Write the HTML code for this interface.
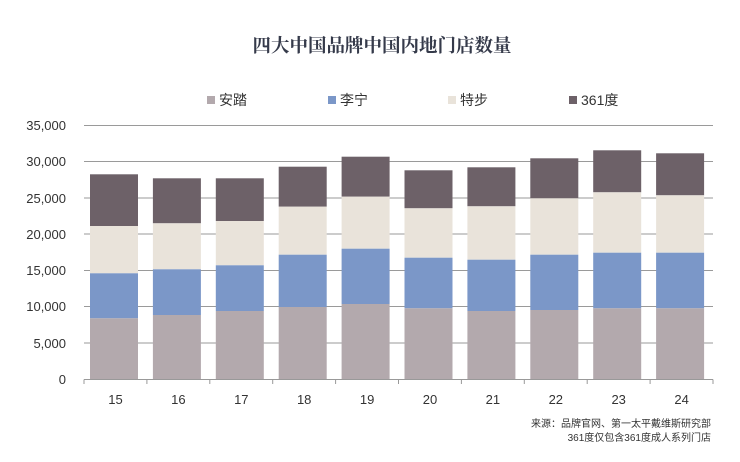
<!DOCTYPE html>
<html><head><meta charset="utf-8"><style>
body{margin:0;background:#fff;}
svg text{font-family:"Liberation Sans","Noto Sans CJK SC",sans-serif;}
</style></head><body>
<svg width="740" height="457" xmlns="http://www.w3.org/2000/svg">
<rect width="740" height="457" fill="#fff"/>
<text x="382" y="52" text-anchor="middle" font-size="18.5" font-weight="bold" fill="#353a4a" style="font-family:'Liberation Serif','Noto Serif CJK SC',serif">四大中国品牌中国内地门店数量</text>
<g font-size="14" fill="#333">
<rect x="207" y="96" width="8" height="8" fill="#b3a9ad"/><text x="219" y="105">安踏</text>
<rect x="328" y="96" width="8" height="8" fill="#7b97c8"/><text x="340" y="105">李宁</text>
<rect x="448" y="96" width="8" height="8" fill="#e9e3da"/><text x="460" y="105">特步</text>
<rect x="569" y="96" width="8" height="8" fill="#6d6168"/><text x="581" y="105">361度</text>
</g>
<g stroke="#9a9a9a" stroke-width="1">
<line x1="84" x2="713" y1="125.5" y2="125.5"/>
<line x1="84" x2="713" y1="161.5" y2="161.5"/>
<line x1="84" x2="713" y1="198" y2="198"/>
<line x1="84" x2="713" y1="234" y2="234"/>
<line x1="84" x2="713" y1="270.5" y2="270.5"/>
<line x1="84" x2="713" y1="306.5" y2="306.5"/>
<line x1="84" x2="713" y1="343" y2="343"/>
</g>
<g font-size="13" fill="#333" text-anchor="end">
<text x="66" y="130">35,000</text>
<text x="66" y="166">30,000</text>
<text x="66" y="203">25,000</text>
<text x="66" y="239">20,000</text>
<text x="66" y="275">15,000</text>
<text x="66" y="311">10,000</text>
<text x="66" y="348">5,000</text>
<text x="66" y="384">0</text>
</g>
<g fill="#6d6168">
<rect x="90" y="174.3" width="48" height="51.7"/>
<rect x="152.9" y="178.3" width="48" height="45"/>
<rect x="215.8" y="178.3" width="48" height="42.7"/>
<rect x="278.7" y="166.7" width="48" height="40"/>
<rect x="341.6" y="156.7" width="48" height="40"/>
<rect x="404.5" y="170.3" width="48" height="38"/>
<rect x="467.4" y="167.3" width="48" height="39"/>
<rect x="530.3" y="158.3" width="48" height="40"/>
<rect x="593.2" y="150.3" width="48" height="42"/>
<rect x="656.1" y="153.3" width="48" height="42"/>
</g>
<g fill="#e9e3da">
<rect x="90" y="226" width="48" height="47.3"/>
<rect x="152.9" y="223.3" width="48" height="46"/>
<rect x="215.8" y="221" width="48" height="44.3"/>
<rect x="278.7" y="206.7" width="48" height="48"/>
<rect x="341.6" y="196.7" width="48" height="52"/>
<rect x="404.5" y="208.3" width="48" height="49.4"/>
<rect x="467.4" y="206.3" width="48" height="53.4"/>
<rect x="530.3" y="198.3" width="48" height="56.4"/>
<rect x="593.2" y="192.3" width="48" height="60.4"/>
<rect x="656.1" y="195.3" width="48" height="57.4"/>
</g>
<g fill="#7b97c8">
<rect x="90" y="273.3" width="48" height="45"/>
<rect x="152.9" y="269.3" width="48" height="45.7"/>
<rect x="215.8" y="265.3" width="48" height="45.7"/>
<rect x="278.7" y="254.7" width="48" height="52.3"/>
<rect x="341.6" y="248.7" width="48" height="55.3"/>
<rect x="404.5" y="257.7" width="48" height="50.6"/>
<rect x="467.4" y="259.7" width="48" height="51.3"/>
<rect x="530.3" y="254.7" width="48" height="55.3"/>
<rect x="593.2" y="252.7" width="48" height="55.6"/>
<rect x="656.1" y="252.7" width="48" height="55.6"/>
</g>
<g fill="#b3a9ad">
<rect x="90" y="318.3" width="48" height="61.2"/>
<rect x="152.9" y="315" width="48" height="64.5"/>
<rect x="215.8" y="311" width="48" height="68.5"/>
<rect x="278.7" y="307" width="48" height="72.5"/>
<rect x="341.6" y="304" width="48" height="75.5"/>
<rect x="404.5" y="308.3" width="48" height="71.2"/>
<rect x="467.4" y="311" width="48" height="68.5"/>
<rect x="530.3" y="310" width="48" height="69.5"/>
<rect x="593.2" y="308.3" width="48" height="71.2"/>
<rect x="656.1" y="308.3" width="48" height="71.2"/>
</g>
<g stroke="#999" stroke-width="1">
<line x1="84" x2="713" y1="379.5" y2="379.5"/>
<line x1="84" x2="84" y1="379.5" y2="384"/>
<line x1="146.9" x2="146.9" y1="379.5" y2="384"/>
<line x1="209.8" x2="209.8" y1="379.5" y2="384"/>
<line x1="272.7" x2="272.7" y1="379.5" y2="384"/>
<line x1="335.6" x2="335.6" y1="379.5" y2="384"/>
<line x1="398.5" x2="398.5" y1="379.5" y2="384"/>
<line x1="461.4" x2="461.4" y1="379.5" y2="384"/>
<line x1="524.3" x2="524.3" y1="379.5" y2="384"/>
<line x1="587.2" x2="587.2" y1="379.5" y2="384"/>
<line x1="650.1" x2="650.1" y1="379.5" y2="384"/>
<line x1="713" x2="713" y1="379.5" y2="384"/>
</g>
<g font-size="13" fill="#333" text-anchor="middle">
<text x="115.5" y="404">15</text>
<text x="178.4" y="404">16</text>
<text x="241.3" y="404">17</text>
<text x="304.2" y="404">18</text>
<text x="367.1" y="404">19</text>
<text x="430" y="404">20</text>
<text x="492.9" y="404">21</text>
<text x="555.8" y="404">22</text>
<text x="618.7" y="404">23</text>
<text x="681.6" y="404">24</text>
</g>
<g font-size="10" fill="#333" text-anchor="end">
<text x="711" y="427">来源：品牌官网、第一太平戴维斯研究部</text>
<text x="711" y="441">361度仅包含361度成人系列门店</text>
</g>
</svg>
</body></html>
